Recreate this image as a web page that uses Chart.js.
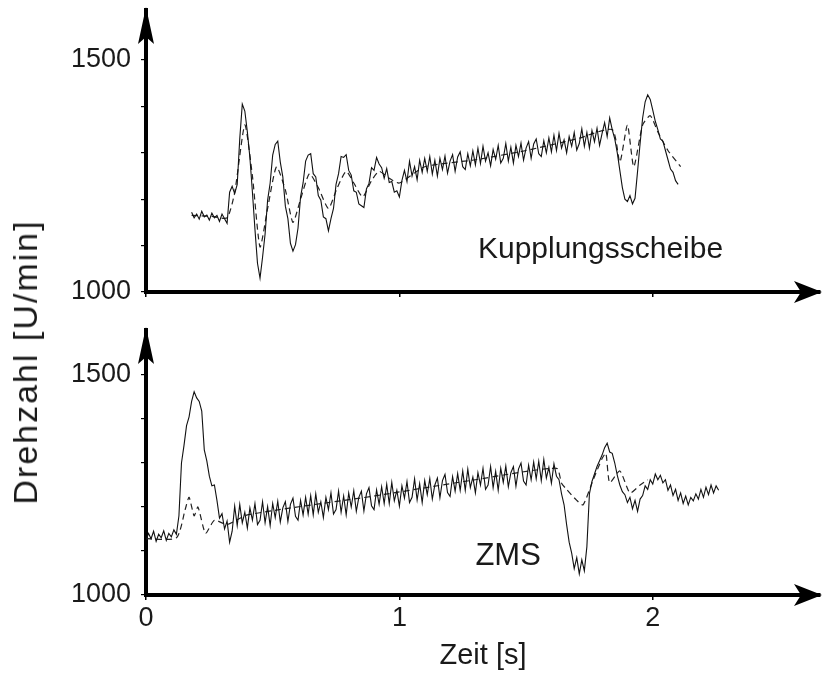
<!DOCTYPE html>
<html>
<head>
<meta charset="utf-8">
<script src="https://cdn.jsdelivr.net/npm/chart.js@4.4.0/dist/chart.umd.min.js"></script>
<style>
  body { margin: 0; background: #fff; }
  #wrap { position: relative; width: 824px; height: 673px; background: #fff; overflow: hidden; }
  canvas { position: absolute; left: 0; }
  #ylab {
    position: absolute; left: 25px; top: 362px;
    transform: translate(-50%, -50%) rotate(-90deg);
    font: 34px "Liberation Sans", Arial, sans-serif; line-height: 1;
    letter-spacing: 2px; white-space: nowrap; color: #1a1a1a;
  }
</style>
</head>
<body>
<div id="wrap">
  <canvas id="topChart" width="824" height="310" style="top:0"></canvas>
  <canvas id="bottomChart" width="824" height="363" style="top:310px"></canvas>
  <div id="ylab">Drehzahl [U/min]</div>
</div>
<script>
// sample interval of the measured traces [s]
const dt = 0.01;

// Kupplungsscheibe - measured (solid), starts at 0.18 s
const kupStart = 0.18;
const kupSolid = [
  1172,1160,1168,1157,1174,1162,1166,1155,1170,1160,
  1165,1152,1168,1158,1148,1215,1228,1212,1232,1330,
  1405,1390,1345,1290,1215,1135,1062,1030,1075,1125,
  1198,1235,1295,1318,1325,1280,1248,1185,1158,1105,
  1088,1102,1138,1205,1235,1282,1295,1298,1255,1248,
  1208,1198,1162,1158,1132,1158,1180,1232,1255,1292,
  1290,1296,1262,1252,1218,1215,1190,1186,1182,1222,
  1234,1268,1262,1290,1276,1268,1245,1266,1236,1238,
  1215,1218,1205,1240,1262,1238,1282,1250,1270,1242,
  1284,1258,1288,1260,1292,1254,1284,1250,1288,1264,
  1293,1256,1282,1296,1260,1291,1302,1270,1264,1298,
  1272,1304,1274,1310,1277,1314,1282,1300,1272,1307,
  1286,1316,1278,1288,1320,1282,1312,1278,1316,1292,
  1321,1284,1310,1324,1288,1319,1330,1298,1292,1326,
  1300,1332,1302,1338,1305,1342,1310,1328,1300,1335,
  1314,1344,1306,1320,1352,1314,1344,1310,1348,1324,
  1353,1316,1342,1365,1335,1375,1350,1330,1300,1262,
  1225,1200,1195,1208,1190,1202,1260,1320,1375,1410,
  1425,1415,1392,1368,1350,1330,1325,1305,1285,1265,
  1258,1240,1232
];
// Kupplungsscheibe - simulation (dashed)
const kupDashT = [0.18,0.26,0.32,0.35,0.39,0.42,0.45,0.48,0.515,0.55,0.58,0.61,0.645,0.68,0.72,0.755,0.79,0.82,0.855,0.89,0.92,0.96,1.0,1.1,1.3,1.5,1.7,1.84,1.87,1.90,1.925,1.96,1.99,2.02,2.06,2.11];
const kupDashV = [1165,1163,1160,1215,1360,1250,1097,1180,1270,1220,1150,1200,1255,1225,1180,1225,1260,1235,1205,1240,1260,1245,1235,1270,1285,1305,1330,1350,1280,1360,1270,1360,1380,1345,1305,1270];

// ZMS - measured (solid), starts at 0 s
const zmsStart = 0;
const zmsSolid = [
  1125,1140,1128,1145,1122,1138,1130,1146,1124,1140,1132,1148,1138,
  1180,1300,1340,1385,1405,1440,1462,1448,1440,1418,1330,
  1305,1270,1248,1250,1215,1175,1185,1150,1168,1120,1145,
  1202,1158,1206,1164,1188,1152,1198,1170,1208,1160,
  1170,1212,1164,1201,1158,1208,1176,1213,1166,1198,
  1212,1167,1206,1220,1179,1170,1215,1182,1222,1184,
  1226,1182,1230,1188,1212,1176,1222,1194,1232,1184,
  1194,1236,1188,1225,1182,1232,1200,1237,1190,1222,
  1236,1191,1230,1244,1203,1194,1239,1206,1246,1208,
  1252,1208,1256,1214,1238,1202,1248,1220,1258,1210,
  1222,1264,1216,1253,1210,1260,1228,1265,1218,1250,
  1266,1221,1260,1274,1233,1224,1269,1236,1276,1238,
  1282,1238,1286,1244,1268,1232,1278,1250,1288,1240,
  1250,1292,1244,1281,1238,1288,1256,1293,1246,1278,
  1292,1247,1286,1300,1259,1250,1295,1262,1302,1264,
  1304,1260,1308,1266,1290,1254,
  1298,1270,1262,1230,1205,1160,1120,1095,1060,1085,
  1048,1080,1055,1110,1230,1258,1275,1292,1305,1318,
  1335,1345,1325,1322,1300,1272,1250,1235,1228,1210,
  1222,1196,1215,1190,1218,1226,1248,1240,1262,1252,
  1275,1262,1272,1255,1262,1238,1250,1226,1240,1215,
  1232,1208,1225,1205,1222,1214,1230,1218,1240,1222,
  1245,1228,1250,1232,1248,1238
];
// ZMS - simulation (dashed)
const zmsDashT = [0,0.12,0.155,0.17,0.19,0.205,0.235,0.27,0.32,0.4,0.9,1.3,1.62,1.64,1.66,1.70,1.725,1.765,1.80,1.815,1.83,1.87,1.91,1.95,1.98];
const zmsDashV = [1128,1130,1195,1222,1180,1200,1140,1170,1160,1182,1225,1262,1288,1254,1240,1215,1205,1262,1310,1322,1255,1282,1232,1250,1262];

const yLabels = [1000, 1500];
const yMinorTicks = [1000, 1100, 1200, 1300, 1400, 1500];
const xLabels = [0, 1, 2];

const FONT = '"Liberation Sans", Arial, sans-serif';
const INK = '#1a1a1a';

function sampled(start, values) {
  return values.map((v, i) => ({ x: +(start + i * dt).toFixed(3), y: v }));
}
function paired(ts, vs) {
  return ts.map((t, i) => ({ x: t, y: vs[i] }));
}

// arrowheads on both axes + panel label
const axisArrows = {
  id: 'axisArrows',
  afterDraw(chart, args, opts) {
    const { ctx, chartArea: a } = chart;
    ctx.save();
    ctx.fillStyle = '#000';
    ctx.beginPath();
    ctx.moveTo(a.left, a.top - 3);
    ctx.lineTo(a.left - 8, a.top + 34);
    ctx.lineTo(a.left, a.top + 27);
    ctx.lineTo(a.left + 8, a.top + 34);
    ctx.closePath();
    ctx.fill();
    ctx.beginPath();
    ctx.moveTo(a.right + 2, a.bottom);
    ctx.lineTo(a.right - 26, a.bottom - 11);
    ctx.lineTo(a.right - 19, a.bottom);
    ctx.lineTo(a.right - 26, a.bottom + 11);
    ctx.closePath();
    ctx.fill();
    if (opts.text) {
      ctx.fillStyle = INK;
      ctx.font = opts.size + 'px ' + FONT;
      ctx.textBaseline = 'alphabetic';
      ctx.fillText(opts.text, chart.scales.x.getPixelForValue(opts.x), chart.scales.y.getPixelForValue(opts.y));
    }
    ctx.restore();
  }
};

function makeChart(id, solid, dashed, yMax, padTop, xHeight, showX, label) {
  return new Chart(document.getElementById(id), {
    type: 'line',
    data: {
      datasets: [
        { data: solid, borderColor: '#111', borderWidth: 1.1, pointRadius: 0, tension: 0 },
        { data: dashed, borderColor: '#222', borderWidth: 1.2, borderDash: [6, 4], pointRadius: 0, tension: 0.2 }
      ]
    },
    options: {
      responsive: false,
      animation: false,
      devicePixelRatio: 1,
      layout: { padding: { top: padTop, right: 4, left: 0, bottom: 0 } },
      plugins: {
        legend: { display: false },
        tooltip: { enabled: false },
        axisArrows: label
      },
      scales: {
        x: {
          type: 'linear', min: 0, max: 2.66,
          afterFit: s => { s.height = xHeight; s.paddingLeft = 0; s.paddingRight = 0; },
          afterBuildTicks: s => { s.ticks = xLabels.map(v => ({ value: v })); },
          border: { color: '#000', width: 4 },
          grid: { drawOnChartArea: false, color: '#000', lineWidth: 1.5, tickLength: 5 },
          ticks: { display: showX, color: INK, font: { family: FONT, size: 27 }, padding: 2, maxRotation: 0 },
          title: { display: showX, text: 'Zeit [s]', color: INK, font: { family: FONT, size: 29 }, padding: { top: 0, bottom: 0 } }
        },
        y: {
          type: 'linear', min: 1000, max: yMax,
          afterFit: s => { s.width = 146; s.paddingTop = 0; s.paddingBottom = 0; },
          afterBuildTicks: s => { s.ticks = yMinorTicks.map(v => ({ value: v })); },
          border: { color: '#000', width: 4 },
          grid: { drawOnChartArea: false, color: '#000', lineWidth: 1.2, tickLength: 5 },
          ticks: {
            color: INK, font: { family: FONT, size: 27 }, padding: 10,
            callback: v => yLabels.includes(v) ? String(v) : ''
          }
        }
      }
    },
    plugins: [axisArrows]
  });
}

makeChart('topChart', sampled(kupStart, kupSolid), paired(kupDashT, kupDashV),
  1607.8, 10, 18, false, { text: 'Kupplungsscheibe', x: 1.31, y: 1073, size: 30 });
makeChart('bottomChart', sampled(zmsStart, zmsSolid), paired(zmsDashT, zmsDashV),
  1602.3, 20, 78, true, { text: 'ZMS', x: 1.30, y: 1068, size: 31 });
</script>
</body>
</html>
